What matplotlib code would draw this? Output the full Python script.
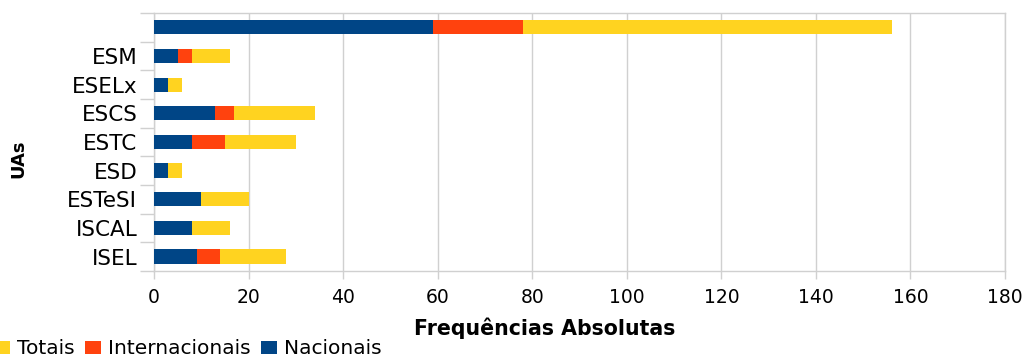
import numpy as np
import matplotlib.pyplot as plt
from matplotlib.ticker import FixedLocator

# Unidades Académicas (a primeira linha é o total geral, sem rótulo)
uas = ['', 'ESM', 'ESELx', 'ESCS', 'ESTC', 'ESD', 'ESTeSI', 'ISCAL', 'ISEL']
nacionais = [59, 5, 3, 13, 8, 3, 10, 8, 9]
internacionais = [19, 3, 0, 4, 7, 0, 0, 0, 5]
totais = [78, 8, 3, 17, 15, 3, 10, 8, 14]

c_nac = '#004586'
c_int = '#ff420e'
c_tot = '#ffd320'
grid_c = '#d0d0d0'

fig = plt.figure(figsize=(10.3, 3.58), dpi=100)
ax = fig.add_axes([154 / 1030, 1 - 271 / 358, (1005 - 154) / 1030, (271 - 13) / 358])

y = np.arange(len(uas))
nac = np.array(nacionais)
inter = np.array(internacionais)
tot = np.array(totais)

h = 0.5
b_nac = ax.barh(y, nac, height=h, color=c_nac, label='Nacionais', zorder=3)
b_int = ax.barh(y, inter, left=nac, height=h, color=c_int, label='Internacionais', zorder=3)
b_tot = ax.barh(y, tot, left=nac + inter, height=h, color=c_tot, label='Totais', zorder=3)

ax.set_xlim(0, 180)
ax.set_ylim(len(uas) - 0.5, -0.5)
ax.set_xticks(np.arange(0, 181, 20))
ax.set_yticks(y)
ax.set_yticklabels(uas, fontsize=15.5, family='DejaVu Sans')
ax.yaxis.set_minor_locator(FixedLocator(np.arange(-0.5, len(uas), 1)))
ax.tick_params(axis='y', which='major', length=0, pad=12)
ax.tick_params(axis='y', which='minor', length=10, color=grid_c, width=1)
ax.tick_params(axis='x', length=6, color=grid_c, width=1, labelsize=13.5, pad=6)
for lbl in ax.get_xticklabels():
    lbl.set_family('DejaVu Sans')

ax.grid(axis='x', color=grid_c, linewidth=1, zorder=0)
for s in ax.spines.values():
    s.set_color(grid_c)
    s.set_linewidth(1)

ax.set_xlabel('Frequências Absolutas', fontsize=14.8, fontweight='heavy', family='DejaVu Sans')
ax.xaxis.set_label_coords((545 - 154) / (1005 - 154), -(328 - 271) / (271 - 13), transform=ax.transAxes)
ax.xaxis.label.set_va('center')
ax.set_ylabel('UAs', fontsize=13, fontweight='heavy', family='DejaVu Sans')
ax.yaxis.set_label_coords(-(154 - 18) / (1005 - 154), (271 - 159) / (271 - 13))
ax.yaxis.label.set_va('center')

fig.legend(handles=[b_tot, b_int, b_nac], labels=['Totais', 'Internacionais', 'Nacionais'],
           loc='center left', bbox_to_anchor=(-6 / 1030, 1 - 349 / 358), ncol=3, frameon=False,
           prop={'family': 'DejaVu Sans', 'size': 14.5}, handlelength=0.8, handleheight=0.6,
           handletextpad=0.35, columnspacing=0.5, borderaxespad=0, borderpad=0)

fig.savefig('out.png', dpi=100)
